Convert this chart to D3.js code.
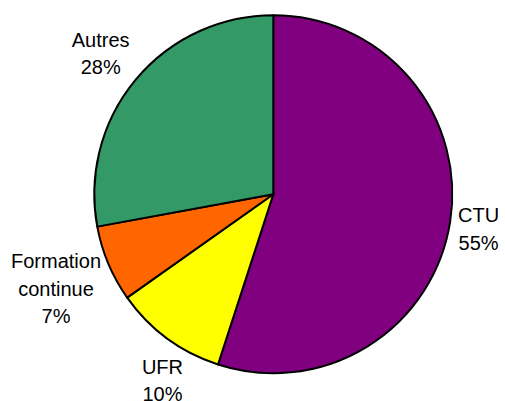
<!DOCTYPE html>
<html>
<head>
<meta charset="utf-8">
<script src="https://cdn.jsdelivr.net/npm/d3@7"></script>
<style>
  html, body { margin: 0; padding: 0; background: #fff; }
  svg { display: block; }
</style>
</head>
<body>
<div id="chart"></div>
<script>
const categories = ['CTU', 'UFR', 'Formation\ncontinue', 'Autres'];
const values = [55.0, 10.2, 6.9, 27.9];
const colors = ['#800080', '#ffff00', '#ff6600', '#339966'];

const width = 505;
const height = 401;
const cx = 273.3;
const cy = 194.2;
const radius = 179;
const fontSize = 20;
const lineHeight = 27.5;
const capHeight = fontSize * 0.716;

const svg = d3.select('#chart')
  .append('svg')
  .attr('width', width)
  .attr('height', height);

const pie = d3.pie().sort(null).value(d => d.value);
const arcs = pie(categories.map((c, i) => ({ name: c, value: values[i], color: colors[i] })));

const arc = d3.arc().innerRadius(0).outerRadius(radius);

const g = svg.append('g').attr('transform', `translate(${cx},${cy})`);

g.selectAll('path.slice')
  .data(arcs)
  .enter()
  .append('path')
  .attr('class', 'slice')
  .attr('d', arc)
  .attr('fill', d => d.data.color)
  .attr('stroke', '#000')
  .attr('stroke-width', 2)
  .attr('stroke-linejoin', 'round');

// labels outside the pie; the block is anchored by the direction of the slice middle,
// lines inside the block are centred
const labelR = radius + 8;
arcs.forEach(d => {
  const mid = (d.startAngle + d.endAngle) / 2;
  const dx = Math.sin(mid);
  const dy = -Math.cos(mid);
  const lines = d.data.name.split('\n').concat([Math.round(d.data.value) + '%']);
  const n = lines.length;

  let align = 'middle';
  if (Math.abs(dx) >= 0.7) align = dx > 0 ? 'start' : 'end';

  const ax = dx * labelR;
  const ay = dy * labelR + (align === 'middle' ? Math.sign(dy) * 14.5 : 0);

  const half = ((n - 1) * lineHeight + capHeight) / 2;
  const f = align === 'middle' ? Math.sign(dy) : Math.max(-1.2, Math.min(1.2, dy * 1.6));
  const vc = ay + f * half;
  const b1 = vc - (n - 1) * lineHeight / 2 + capHeight / 2;

  const t = g.append('text')
    .attr('text-anchor', 'middle')
    .attr('font-family', '"Liberation Sans", Arial, sans-serif')
    .attr('font-size', fontSize)
    .attr('fill', '#000');

  const spans = lines.map((line, i) => t.append('tspan')
    .attr('y', b1 + i * lineHeight)
    .text(line));

  const w = d3.max(spans, s => s.node().getComputedTextLength());
  let bx = ax;
  if (align === 'start') bx = ax + w / 2;
  if (align === 'end') bx = ax - w / 2;
  spans.forEach(s => s.attr('x', bx));
});
</script>
</body>
</html>
